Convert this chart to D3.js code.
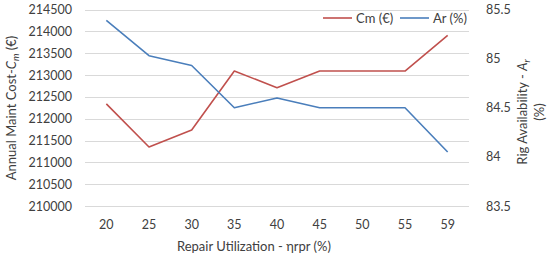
<!DOCTYPE html>
<html>
<head>
<meta charset="utf-8">
<script src="https://cdn.jsdelivr.net/npm/d3@7"></script>
<style>
  html, body { margin: 0; padding: 0; background: #fff; }
  svg { display: block; font-family: Lato, "Open Sans", sans-serif; }
</style>
</head>
<body>
<div id="chart"></div>
<script>
// Repair utilization vs annual maintenance cost and rig availability (dual axis line chart)

const categories = ["20", "25", "30", "35", "40", "45", "50", "55", "59"];
const costValues = [212340, 211350, 211740, 213090, 212710, 213090, 213090, 213090, 213910];
const availValues = [85.39, 85.03, 84.93, 84.5, 84.6, 84.5, 84.5, 84.5, 84.05];
const leftTicks = d3.range(210000, 214501, 500);
const rightTicks = [83.5, 84, 84.5, 85, 85.5];

const W = 549, H = 258;
const plot = { left: 85, right: 469, top: 9.5, bottom: 206 };

const svg = d3.select("#chart").append("svg")
  .attr("width", W).attr("height", H);

const x = d3.scaleBand().domain(categories).range([plot.left, plot.right]);
const yL = d3.scaleLinear().domain([210000, 214500]).range([plot.bottom, plot.top]);
const yR = d3.scaleLinear().domain([83.5, 85.5]).range([plot.bottom, plot.top]);

// gridlines
svg.append("g")
  .selectAll("line")
  .data(leftTicks)
  .join("line")
    .attr("x1", plot.left).attr("x2", plot.right)
    .attr("y1", d => Math.round(yL(d)) + 0.5).attr("y2", d => Math.round(yL(d)) + 0.5)
    .attr("stroke", "#d9d9d9").attr("stroke-width", 1);

// left axis
const leftAxis = svg.append("g")
  .attr("transform", `translate(${plot.left - 13},0)`)
  .call(d3.axisLeft(yL).tickValues(leftTicks).tickSize(0).tickPadding(0).tickFormat(d3.format("d")));
leftAxis.select(".domain").remove();

// right axis
const rightAxis = svg.append("g")
  .attr("transform", `translate(${plot.right + 17},0)`)
  .call(d3.axisRight(yR).tickValues(rightTicks).tickSize(0).tickPadding(0).tickFormat(d => d));
rightAxis.select(".domain").remove();

// bottom axis
const bottomAxis = svg.append("g")
  .attr("transform", `translate(0,${plot.bottom + 14})`)
  .call(d3.axisBottom(x).tickSize(0).tickPadding(0));
bottomAxis.select(".domain").remove();

svg.selectAll(".tick text")
  .attr("fill", "#404040")
  .style("font-family", "Lato, 'Open Sans', sans-serif")
  .style("font-size", "12.5px");

// lines
const costLine = d3.line().x((d, i) => x(categories[i]) + x.bandwidth() / 2).y(d => yL(d));
const availLine = d3.line().x((d, i) => x(categories[i]) + x.bandwidth() / 2).y(d => yR(d));

svg.append("path").datum(costValues)
  .attr("d", costLine).attr("fill", "none")
  .attr("stroke", "#c0504d").attr("stroke-width", 1.6).attr("stroke-linejoin", "round");
svg.append("path").datum(availValues)
  .attr("d", availLine).attr("fill", "none")
  .attr("stroke", "#4a7ebb").attr("stroke-width", 1.6).attr("stroke-linejoin", "round");

// axis titles
const titleStyle = sel => sel.attr("fill", "#404040").style("font-size", "13px");

svg.append("text")
  .attr("transform", "translate(16,108) rotate(-90)")
  .attr("text-anchor", "middle")
  .call(titleStyle)
  .call(t => {
    t.append("tspan").text("Annual Maint Cost-");
    t.append("tspan").attr("font-style", "italic").text("C");
    t.append("tspan").attr("font-style", "italic").attr("font-size", "9.5px").attr("dy", 3).text("m");
    t.append("tspan").attr("dy", -3).text(" (€)");
  });

const rightTitle = svg.append("text")
  .attr("transform", "translate(527,112) rotate(-90)")
  .attr("text-anchor", "middle")
  .call(titleStyle);
rightTitle.append("tspan").attr("x", 0).attr("dy", 0)
  .call(t => {
    t.append("tspan").text("Rig Availability - ");
    t.append("tspan").attr("font-style", "italic").text("A");
    t.append("tspan").attr("font-style", "italic").attr("font-size", "9.5px").attr("dy", 3).text("r");
  });
rightTitle.append("tspan").attr("x", 0).attr("dy", 14).text("(%)");

svg.append("text")
  .attr("x", 254).attr("y", 251)
  .attr("text-anchor", "middle")
  .call(titleStyle)
  .text("Repair Utilization - ηrpr (%)");

// legend
const legend = [
  { label: "Cm (€)", color: "#c0504d", x: 323 },
  { label: "Ar (%)", color: "#4a7ebb", x: 400 }
];
const lg = svg.append("g").selectAll("g").data(legend).join("g")
  .attr("transform", d => `translate(${d.x},18)`);
lg.append("line").attr("x1", 0).attr("x2", 29).attr("y1", 0).attr("y2", 0)
  .attr("stroke", d => d.color).attr("stroke-width", 1.6);
lg.append("text").attr("x", 33).attr("dy", "0.35em")
  .call(titleStyle).text(d => d.label);
</script>
</body>
</html>
